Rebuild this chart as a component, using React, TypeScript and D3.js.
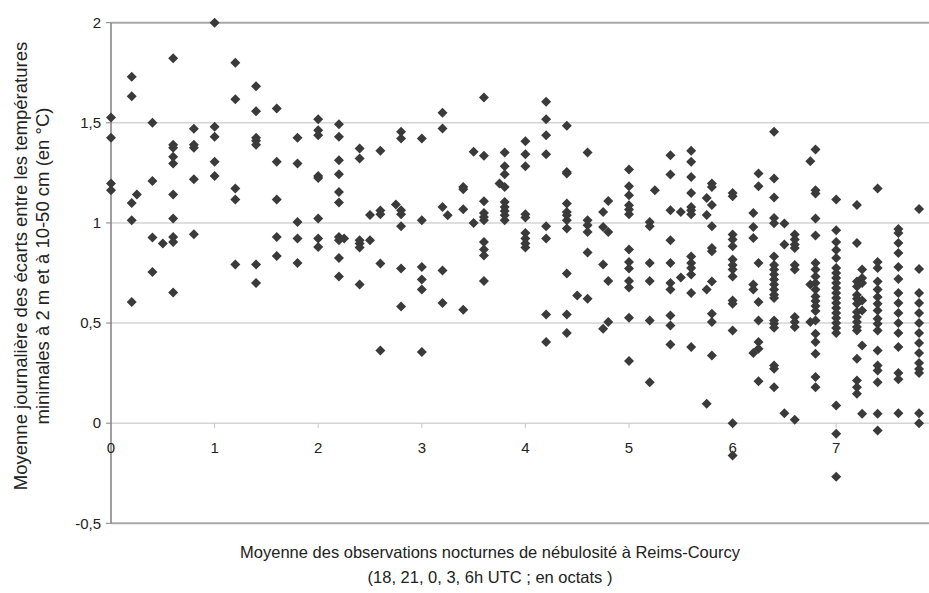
import React from "react";
import * as d3 from "d3";

// Cloud cover (octas) columns and the daily mean differences observed at each
const columnX = [
  0, 0.2, 0.25, 0.4, 0.5, 0.6, 0.8, 1.0, 1.2, 1.4, 1.6, 1.8,
  2.0, 2.2, 2.25, 2.4, 2.5, 2.6, 2.75, 2.8, 3.0, 3.2, 3.25, 3.4, 3.5, 3.6, 3.75, 3.8,
  4.0, 4.2, 4.4, 4.5, 4.6, 4.75, 4.8, 5.0, 5.2, 5.25, 5.4, 5.5, 5.6, 5.75, 5.8,
  6.0, 6.2, 6.25, 6.4, 6.5, 6.6, 6.75, 6.8, 7.0, 7.2, 7.25, 7.4, 7.6, 7.8,
];

const columnY: number[][] = [
  [1.527, 1.425, 1.197, 1.163],
  [1.73, 1.633, 1.1, 1.013, 0.605],
  [1.142],
  [1.5, 1.21, 0.927, 0.755],
  [0.897],
  [1.823, 1.39, 1.375, 1.33, 1.297, 1.142, 1.022, 0.93, 0.905, 0.652],
  [1.47, 1.39, 1.375, 1.218, 0.943],
  [2.0, 1.48, 1.43, 1.305, 1.235],
  [1.8, 1.618, 1.172, 1.117, 0.793],
  [1.683, 1.558, 1.425, 1.41, 1.39, 0.793, 0.7],
  [1.572, 1.305, 1.117, 0.93, 0.835],
  [1.425, 1.297, 1.005, 0.922, 0.8],
  [1.518, 1.463, 1.438, 1.235, 1.225, 1.022, 0.922, 0.88],
  [1.493, 1.43, 1.313, 1.243, 1.155, 1.102, 0.93, 0.913, 0.825, 0.733],
  [0.922],
  [1.372, 1.322, 0.913, 0.897, 0.877, 0.693],
  [1.04, 0.913],
  [1.36, 1.062, 1.043, 0.797, 0.363],
  [1.092],
  [1.455, 1.422, 1.063, 1.043, 0.983, 0.772, 0.583],
  [1.422, 1.013, 0.78, 0.718, 0.668, 0.355],
  [1.55, 1.472, 1.08, 0.763, 0.6],
  [1.038],
  [1.18, 1.168, 1.068, 0.567],
  [1.355, 1.0],
  [1.627, 1.335, 1.108, 1.05, 1.03, 1.013, 0.905, 0.867, 0.838, 0.71],
  [1.197],
  [1.352, 1.283, 1.243, 1.18, 1.105, 1.08, 1.06, 1.038, 1.013],
  [1.408, 1.343, 1.283, 1.043, 1.027, 0.95, 0.922, 0.897, 0.877],
  [1.605, 1.518, 1.438, 1.343, 0.983, 0.922, 0.543, 0.405],
  [1.485, 1.255, 1.247, 1.097, 1.055, 1.038, 1.013, 0.972, 0.747, 0.543, 0.45],
  [0.638],
  [1.352, 1.013, 0.988, 0.955, 0.852, 0.622],
  [1.055, 0.98, 0.793, 0.472],
  [1.11, 0.955, 0.71, 0.505],
  [1.267, 1.183, 1.138, 1.088, 1.067, 1.043, 0.867, 0.805, 0.772, 0.71, 0.677, 0.527, 0.31],
  [1.005, 0.983, 0.8, 0.71, 0.513, 0.205],
  [1.163],
  [1.338, 1.242, 1.063, 0.913, 0.8, 0.7, 0.667, 0.538, 0.488, 0.393],
  [1.055, 0.727],
  [1.36, 1.305, 1.23, 1.15, 1.08, 1.063, 1.043, 0.833, 0.8, 0.775, 0.742, 0.65, 0.38],
  [1.125, 1.04, 0.667, 0.097],
  [1.197, 1.18, 1.09, 0.983, 0.875, 0.858, 0.708, 0.547, 0.505, 0.338],
  [1.15, 1.133, 0.942, 0.917, 0.883, 0.817, 0.79, 0.767, 0.733, 0.613, 0.597, 0.463, 0.0, -0.162],
  [1.05, 0.98, 0.925, 0.692, 0.667, 0.35],
  [1.247, 1.183, 0.8, 0.605, 0.513, 0.405, 0.372, 0.21],
  [1.455, 1.222, 1.127, 1.025, 0.998, 0.833, 0.79, 0.767, 0.742, 0.717, 0.692, 0.667, 0.642, 0.625, 0.513, 0.497, 0.477, 0.288, 0.272, 0.18],
  [0.997, 0.892, 0.05],
  [0.942, 0.917, 0.892, 0.875, 0.79, 0.767, 0.53, 0.505, 0.48, 0.017],
  [1.308, 0.692, 0.505],
  [1.367, 1.163, 1.147, 1.022, 0.937, 0.8, 0.767, 0.733, 0.7, 0.667, 0.633, 0.61, 0.585, 0.56, 0.513, 0.447, 0.405, 0.347, 0.23, 0.18],
  [1.117, 0.963, 0.905, 0.865, 0.825, 0.775, 0.75, 0.725, 0.7, 0.675, 0.65, 0.625, 0.6, 0.575, 0.55, 0.525, 0.5, 0.475, 0.45, 0.088, -0.053, -0.267],
  [1.09, 0.9, 0.708, 0.683, 0.64, 0.622, 0.597, 0.555, 0.53, 0.505, 0.48, 0.463, 0.322, 0.213, 0.18, 0.147],
  [0.767, 0.725, 0.7, 0.613, 0.563, 0.388, 0.047],
  [1.172, 0.805, 0.775, 0.708, 0.667, 0.63, 0.597, 0.563, 0.522, 0.497, 0.463, 0.363, 0.288, 0.263, 0.205, 0.047, -0.037],
  [0.97, 0.95, 0.9, 0.85, 0.78, 0.72, 0.65, 0.6, 0.55, 0.5, 0.45, 0.38, 0.25, 0.22, 0.05],
  [1.07, 0.77, 0.65, 0.6, 0.55, 0.5, 0.45, 0.4, 0.35, 0.3, 0.27, 0.25, 0.05, 0.0],
];

const xTicks = [0, 1, 2, 3, 4, 5, 6, 7];
const yTicks = [-0.5, 0, 0.5, 1, 1.5, 2];
const yTickLabels = ["-0,5", "0", "0,5", "1", "1,5", "2"];

const yTitle = [
  "Moyenne journalière des écarts entre les températures",
  "minimales à 2 m et à 10-50 cm (en °C)",
];
const xTitle = [
  "Moyenne des observations nocturnes de nébulosité à Reims-Courcy",
  "(18, 21, 0, 3, 6h UTC ; en octats )",
];

const W = 929;
const H = 593;
const FONT = "'Liberation Sans', Arial, sans-serif";

export default function App() {
  const x = d3.scaleLinear().domain([0, 8]).range([111, 111 + 8 * 103.6]);
  const y = d3.scaleLinear().domain([-0.5, 2]).range([523.3, 22.7]);
  const plotRight = W;

  const points: { px: number; py: number }[] = [];
  columnX.forEach((cx, i) => {
    columnY[i].forEach((v) => points.push({ px: x(cx), py: y(v) }));
  });

  const diamond = "M0,-5L5,0L0,5L-5,0Z";
  const yMid = 266;

  return (
    <svg
      width={W}
      height={H}
      style={{ position: "absolute", left: 0, top: 0, background: "#fff" }}
      fontFamily={FONT}
    >
      {/* gridlines */}
      {[0, 0.5, 1, 1.5].map((v) => (
        <line key={"g" + v} x1={x(0)} x2={plotRight} y1={y(v)} y2={y(v)} stroke="#d4d4d4" strokeWidth={1.5} />
      ))}
      {/* top and bottom frame */}
      <line x1={x(0)} x2={plotRight} y1={y(2)} y2={y(2)} stroke="#a8a8a8" strokeWidth={2} />
      <line x1={x(0)} x2={plotRight} y1={y(-0.5)} y2={y(-0.5)} stroke="#a8a8a8" strokeWidth={2} />
      {/* x axis ticks at y=0 */}
      {xTicks.slice(1).map((t) => (
        <line key={"xt" + t} x1={x(t)} x2={x(t)} y1={y(0)} y2={y(0) + 5} stroke="#c8c8c8" strokeWidth={1} />
      ))}
      {/* y axis */}
      <line x1={x(0)} x2={x(0)} y1={y(2)} y2={y(-0.5)} stroke="#808080" strokeWidth={1.5} />
      {yTicks.map((t) => (
        <line key={"yt" + t} x1={x(0) - 5} x2={x(0)} y1={y(t)} y2={y(t)} stroke="#808080" strokeWidth={1} />
      ))}
      {yTicks.map((t, i) => (
        <text key={"yl" + t} x={x(0) - 10} y={y(t)} dy="0.35em" textAnchor="end" fontSize={15} fill="#222">
          {yTickLabels[i]}
        </text>
      ))}
      {xTicks.map((t) => (
        <text key={"xl" + t} x={x(t)} y={y(0) + 30} textAnchor="middle" fontSize={15} fill="#222">
          {t}
        </text>
      ))}
      {/* points */}
      {points.map((p, i) => (
        <path key={i} d={diamond} transform={`translate(${p.px},${p.py})`} fill="#3a3a3a" />
      ))}
      {/* axis titles */}
      <text transform={`translate(27,${yMid}) rotate(-90)`} textAnchor="middle" fontSize={18.5} fill="#222">
        {yTitle[0]}
      </text>
      <text transform={`translate(49,${yMid}) rotate(-90)`} textAnchor="middle" fontSize={18.5} fill="#222">
        {yTitle[1]}
      </text>
      <text x={490} y={558} textAnchor="middle" fontSize={16.5} fill="#222">
        {xTitle[0]}
      </text>
      <text x={490} y={583} textAnchor="middle" fontSize={16.5} fill="#222">
        {xTitle[1]}
      </text>
    </svg>
  );
}
